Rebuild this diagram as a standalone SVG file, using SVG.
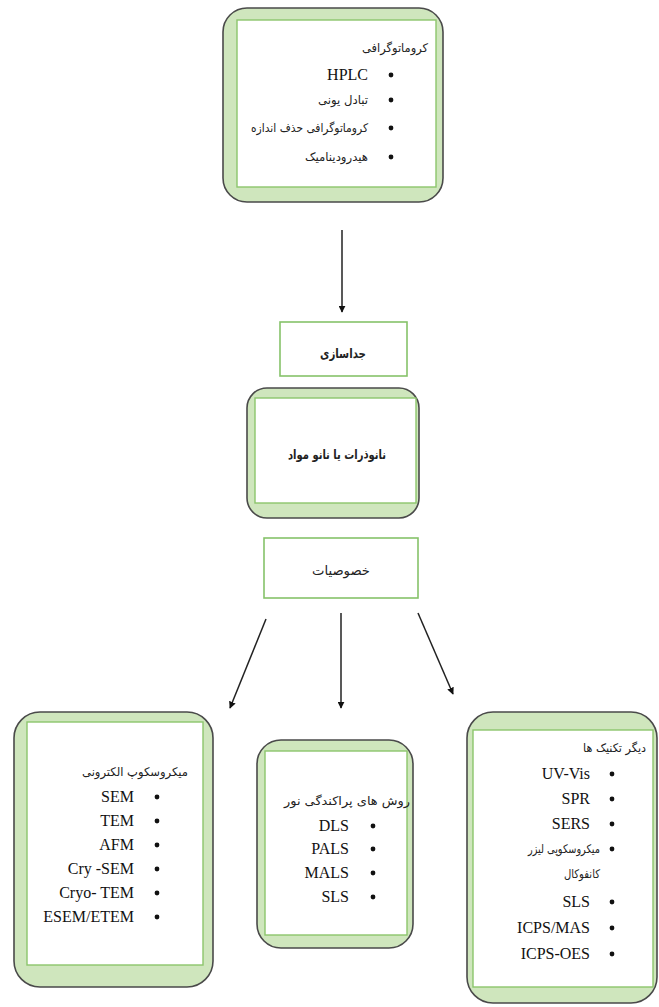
<svg xmlns="http://www.w3.org/2000/svg" width="659" height="1007" viewBox="0 0 659 1007">
<style>
.outer{fill:#cfe6bd;stroke:#4a4a4a;stroke-width:1.6}
.inner{fill:#ffffff;stroke:#8cc56c;stroke-width:1.4}
.plain{fill:#ffffff;stroke:#86c26a;stroke-width:1.6}
.fa{font-family:"DejaVu Sans",sans-serif;font-size:12px;fill:#222;text-anchor:end}
.fac{font-family:"DejaVu Sans",sans-serif;font-size:13px;fill:#222;text-anchor:middle}
.en{font-family:"Liberation Serif",serif;font-size:16px;fill:#111;text-anchor:end}
.dot{fill:#111}
.conn{stroke:#222;stroke-width:1.5;fill:none;marker-end:url(#ah)}
</style>
<defs>
<marker id="ah" viewBox="0 0 10 10" refX="9" refY="5" markerWidth="7" markerHeight="7" orient="auto" markerUnits="userSpaceOnUse">
<path d="M0,0 L10,5 L0,10 z" fill="#111"/>
</marker>
</defs>
<rect width="659" height="1007" fill="#ffffff"/>

<g id="node-chromatography">
<rect class="outer" x="223" y="8" width="220" height="194" rx="24"/>
<rect class="inner" x="237" y="20" width="199" height="167"/>
<text class="fa" x="428" y="52" textLength="66" lengthAdjust="spacingAndGlyphs">کروماتوگرافی</text>
<circle class="dot" cx="391" cy="75" r="2.4"/>
<text class="en" x="368" y="80">HPLC</text>
<circle class="dot" cx="391" cy="100" r="2.4"/>
<text class="fa" x="368" y="104" textLength="50" lengthAdjust="spacingAndGlyphs">تبادل یونی</text>
<circle class="dot" cx="391" cy="128" r="2.4"/>
<text class="fa" x="368" y="132" textLength="117" lengthAdjust="spacingAndGlyphs">کروماتوگرافی حذف اندازه</text>
<circle class="dot" cx="391" cy="157" r="2.4"/>
<text class="fa" x="368" y="161" textLength="63" lengthAdjust="spacingAndGlyphs">هیدرودینامیک</text>
</g>

<g id="node-separation">
<rect class="plain" x="280" y="322" width="127" height="54"/>
<text class="fac" x="343" y="358" font-weight="bold" textLength="46" lengthAdjust="spacingAndGlyphs">جداسازی</text>
</g>

<g id="node-nano">
<rect class="outer" x="247" y="388" width="172" height="130" rx="20"/>
<rect class="inner" x="255" y="398" width="161" height="105"/>
<text class="fac" x="337" y="459" font-weight="bold" textLength="98" lengthAdjust="spacingAndGlyphs">نانوذرات یا نانو مواد</text>
</g>

<g id="node-properties">
<rect class="plain" x="264" y="538" width="154" height="60"/>
<text class="fac" x="341" y="575" textLength="58" lengthAdjust="spacingAndGlyphs">خصوصیات</text>
</g>

<g id="node-electron-microscopy">
<rect class="outer" x="14" y="712" width="199" height="275" rx="26"/>
<rect class="inner" x="27" y="722" width="176" height="243"/>
<text class="fa" x="188" y="776" textLength="106" lengthAdjust="spacingAndGlyphs">میکروسکوپ الکترونی</text>
<circle class="dot" cx="157" cy="797" r="2.4"/>
<text class="en" x="134" y="802">SEM</text>
<circle class="dot" cx="157" cy="821" r="2.4"/>
<text class="en" x="134" y="826">TEM</text>
<circle class="dot" cx="157" cy="845" r="2.4"/>
<text class="en" x="134" y="850">AFM</text>
<circle class="dot" cx="157" cy="869" r="2.4"/>
<text class="en" x="134" y="874">Cry -SEM</text>
<circle class="dot" cx="157" cy="893" r="2.4"/>
<text class="en" x="134" y="898">Cryo- TEM</text>
<circle class="dot" cx="157" cy="917" r="2.4"/>
<text class="en" x="134" y="922">ESEM/ETEM</text>
</g>

<g id="node-light-scattering">
<rect class="outer" x="257" y="740" width="156" height="208" rx="24"/>
<rect class="inner" x="265" y="751" width="142" height="184"/>
<text class="fa" x="410" y="805" textLength="126" lengthAdjust="spacingAndGlyphs">روش های پراکندگی نور</text>
<circle class="dot" cx="373" cy="826" r="2.4"/>
<text class="en" x="349" y="831">DLS</text>
<circle class="dot" cx="373" cy="849" r="2.4"/>
<text class="en" x="349" y="854">PALS</text>
<circle class="dot" cx="373" cy="873" r="2.4"/>
<text class="en" x="349" y="878">MALS</text>
<circle class="dot" cx="373" cy="897" r="2.4"/>
<text class="en" x="349" y="902">SLS</text>
</g>

<g id="node-other-techniques">
<rect class="outer" x="467" y="712" width="190" height="291" rx="26"/>
<rect class="inner" x="473" y="730" width="180" height="257"/>
<text class="fa" x="646" y="752" textLength="63" lengthAdjust="spacingAndGlyphs">دیگر تکنیک ها</text>
<circle class="dot" cx="612" cy="774" r="2.4"/>
<text class="en" x="590" y="779">UV-Vis</text>
<circle class="dot" cx="612" cy="799" r="2.4"/>
<text class="en" x="590" y="804">SPR</text>
<circle class="dot" cx="612" cy="824" r="2.4"/>
<text class="en" x="590" y="829">SERS</text>
<circle class="dot" cx="612" cy="849" r="2.4"/>
<text class="fa" x="600" y="853" textLength="72" lengthAdjust="spacingAndGlyphs">میکروسکوپی لیزر</text>
<text class="fa" x="600" y="878" textLength="36" lengthAdjust="spacingAndGlyphs">کانفوکال</text>
<circle class="dot" cx="612" cy="902" r="2.4"/>
<text class="en" x="590" y="907">SLS</text>
<circle class="dot" cx="612" cy="928" r="2.4"/>
<text class="en" x="590" y="933">ICPS/MAS</text>
<circle class="dot" cx="612" cy="954" r="2.4"/>
<text class="en" x="590" y="959">ICPS-OES</text>
</g>

<g id="connectors">
<line class="conn" x1="342" y1="230" x2="342" y2="312"/>
<line class="conn" x1="266" y1="619" x2="230" y2="708"/>
<line class="conn" x1="341" y1="613" x2="341" y2="708"/>
<line class="conn" x1="418" y1="613" x2="453" y2="694"/>
</g>
</svg>
